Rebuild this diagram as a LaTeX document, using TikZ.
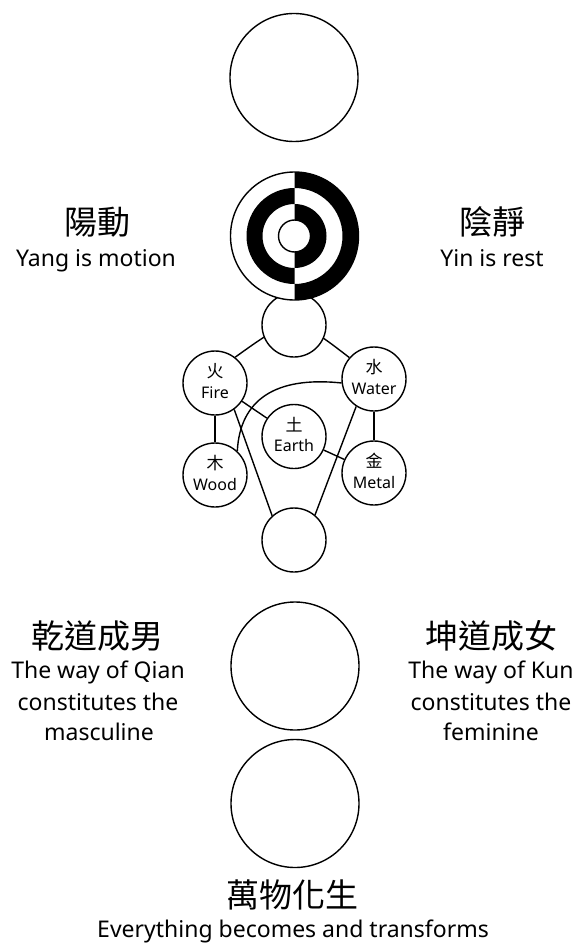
\documentclass[tikz,border=0pt]{standalone}
\usepackage{fontspec}
\setmainfont{Noto Sans}
\newfontfamily\cjk{Noto Sans CJK TC}
\pgfdeclarelayer{bg}
\pgfsetlayers{bg,main}
\begin{document}
\begin{tikzpicture}[x=1pt,y=-1pt,
  ring/.style={circle,draw,fill=white,line width=1.4pt,inner sep=0pt},
  bigc/.style={ring,minimum size=128pt},
  smallc/.style={ring,minimum size=64pt},
  conn/.style={line width=1.4pt},
  zh/.style={font=\cjk\fontsize{33}{33}\selectfont,inner sep=0pt},
  en/.style={font=\fontsize{23}{23}\selectfont,anchor=base,inner sep=0pt},
  ezh/.style={font=\cjk\fontsize{17}{17}\selectfont,inner sep=0pt},
  een/.style={font=\fontsize{16}{16}\selectfont,anchor=base,inner sep=0pt}]
\useasboundingbox (0,0) rectangle (577,944);
% big circles
\node[bigc] (top) at (294,77.5) {};
\node[smallc] (mid) at (294,325) {};
\node[bigc] (taiji) at (294.5,236) {};
\begin{scope}
  \clip (294.5,165) rectangle (365,307);
  \fill[even odd rule] (taiji.center) circle[radius=64pt] circle[radius=48pt] circle[radius=32pt] circle[radius=16pt];
\end{scope}
\begin{scope}
  \clip (224,165) rectangle (294.5,307);
  \fill[even odd rule] (taiji.center) circle[radius=48pt] circle[radius=32pt];
\end{scope}
\draw[conn] (taiji.center) circle[radius=16pt];
% five elements
\node[smallc] (fire) at (215,383) {};
\node[smallc] (water) at (374,379) {};
\node[smallc] (earth) at (294,436.5) {};
\node[smallc] (wood) at (215,475) {};
\node[smallc] (metal) at (374,473) {};
\node[smallc] (bot) at (294,540) {};
\node[ezh] (firezh) at (215,371) {火};
\node[een] (fireen) at (215,398) {Fire};
\node[ezh] (waterzh) at (374,367) {水};
\node[een] (wateren) at (374,394) {Water};
\node[ezh] (earthzh) at (294,424.5) {土};
\node[een] (earthen) at (294,451.5) {Earth};
\node[ezh] (woodzh) at (215,463) {木};
\node[een] (wooden) at (215,490) {Wood};
\node[ezh] (metalzh) at (374,461) {金};
\node[een] (metalen) at (374,488) {Metal};
\begin{pgfonlayer}{bg}
  \draw[conn] (fire.52) .. controls (294,315) .. (water.139);
  \draw[conn] (fire) -- (wood);
  \draw[conn] (water) -- (metal);
  \draw[conn] (fire) -- (earth);
  \draw[conn] (earth) -- (metal);
  \draw[conn] (fire.-54) -- (bot.132);
  \draw[conn] (water.-123) -- (bot.50);
  \draw[conn] (wood.47) .. controls (240,400) and (275,376) .. (water.187);
\end{pgfonlayer}
% lower circles
\node[bigc] (qian) at (295,666) {};
\node[bigc] (wan) at (295,803.5) {};
% texts
\node[zh] (yangzh) at (97,222) {陽動};
\node[en] (yangen) at (96,266) {Yang is motion};
\node[zh] (yinzh) at (492,222) {陰靜};
\node[en] (yinen) at (492,266) {Yin is rest};
\node[zh] (qianzh) at (97,636) {乾道成男};
\node[en] (qianen1) at (98,678) {The way of Qian};
\node[en] (qianen2) at (98,710) {constitutes the};
\node[en] (qianen3) at (99,740) {masculine};
\node[zh] (kunzh) at (491,636) {坤道成女};
\node[en] (kunen1) at (491,678) {The way of Kun};
\node[en] (kunen2) at (491,710) {constitutes the};
\node[en] (kunen3) at (491,740) {feminine};
\node[zh] (wanzh) at (292,895) {萬物化生};
\node[en] (wanen) at (293,937) {Everything becomes and transforms};
\end{tikzpicture}
\end{document}
